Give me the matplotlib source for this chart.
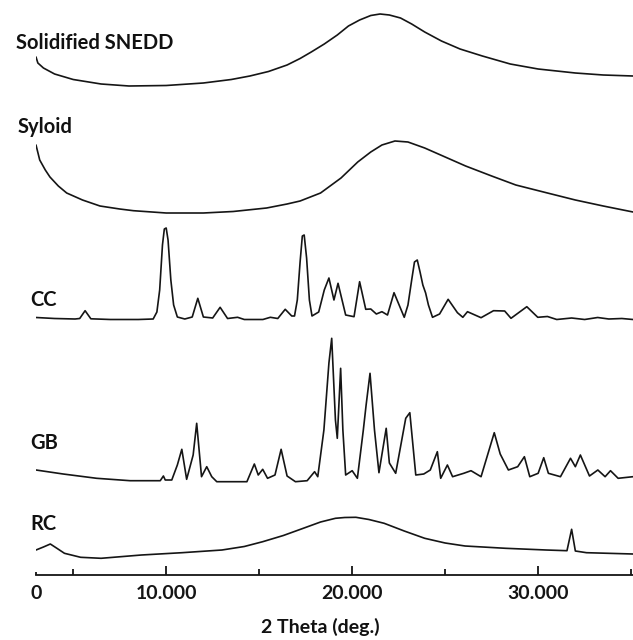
import matplotlib
matplotlib.use('Agg')
import matplotlib.pyplot as plt

plt.rcParams['font.family'] = ['Lato', 'DejaVu Sans']

# ---------------- data (2 theta in degrees, intensity in arbitrary units) -------------
names = ['Solidified SNEDD', 'Syloid', 'CC', 'GB', 'RC']

snedd_x = [3.0, 3.1, 3.4, 4.0, 5.0, 6.5, 8.0, 10.0, 12.0, 13.5, 14.5, 15.5, 16.5, 17.2,
           17.8, 18.5, 19.2, 19.8, 20.4, 21.0, 21.5, 22.0, 22.6, 23.2, 23.9, 24.8, 25.8,
           27.0, 28.5, 30.0, 32.0, 33.5, 35.1]
snedd_y = [33, 27, 22, 16, 10.5, 6, 4, 4.5, 7, 10.5, 14, 18.5, 25, 31.5,
           38, 46, 55, 64, 70, 74.5, 76, 75, 72, 66, 58, 49, 41,
           34, 26, 21, 17, 15, 14]

syloid_x = [3.0, 3.2, 3.5, 3.75, 4.2, 4.65, 5.5, 6.44, 7.5, 8.24, 10.0, 12.0, 13.6, 15.4,
            16.5, 17.2, 18.3, 19.4, 20.3, 21.0, 21.6, 22.3, 23.0, 23.9, 25.0, 26.1, 27.5,
            28.8, 30.5, 32.0, 33.5, 35.1]
syloid_y = [70, 55, 45, 38, 29, 22, 15, 9, 6, 4.3, 2, 2, 3.5, 7,
            11, 14, 22, 37, 53, 63, 70, 74, 73, 67, 58, 49, 39,
            30, 22, 15, 9, 3]

cc_x = [3.0, 4.0, 5.1, 5.35, 5.64, 5.95, 7.0, 8.5, 9.3, 9.5, 9.65, 9.8, 9.9, 10.0, 10.1,
        10.25, 10.4, 10.6, 11.0, 11.4, 11.7, 12.0, 12.5, 12.9, 13.3, 13.84, 14.2, 15.2, 15.6,
        16.0, 16.4, 16.75, 16.9, 17.05, 17.2, 17.32, 17.42, 17.55, 17.7, 17.84, 18.2, 18.5,
        18.75, 19.02, 19.24, 19.65, 20.1, 20.4, 20.73, 21.0, 21.3, 21.6, 21.9, 22.25, 22.8,
        23.0, 23.2, 23.35, 23.5, 23.65, 23.8, 23.95, 24.1, 24.32, 24.7, 25.16, 25.66, 25.95,
        26.2, 26.93, 27.6, 28.2, 28.54, 29.39, 29.98, 30.5, 31.0, 31.8, 32.5, 33.2, 33.8,
        34.5, 35.1]
cc_y = [2.0, 1.0, 0.5, 1.0, 8.8, 0.7, 0.0, 0.0, 0.5, 7.5, 29.5, 74.5, 90.5, 91.5, 79.5,
        39.5, 14.5, 2.5, 0.5, 2.5, 21.2, 2.5, 1.5, 12.2, 1.0, 2.2, 0.0, 0.0, 2.2,
        1.0, 10.2, 3.5, 3.5, 19.5, 57.5, 83.5, 84.5, 61.5, 19.5, 3.5, 7.5, 29.5,
        41.5, 19.5, 36.2, 4.5, 2.8, 37.8, 10.2, 10.5, 5.5, 7.8, 4.5, 26.8, 2.2,
        14.5, 39.5, 57.5, 59.5, 47.5, 34.5, 26.5, 14.5, 2.2, 5.5, 20.2, 6.8, 2.2,
        7.8, 1.8, 8.8, 8.5, 1.2, 12.8, 2.2, 3.0, 0.0, 1.5, 0.0, 2.0, 0.5,
        1.0, 0.0]

gb_x = [3.0, 4.46, 6.26, 8.06, 9.68, 9.85, 9.95, 10.3, 10.6, 10.84, 11.1, 11.45, 11.64, 11.9,
        12.18, 12.45, 12.72, 14.34, 14.74, 14.95, 15.19, 15.45, 15.85, 16.18, 16.5, 16.95,
        17.58, 17.98, 18.15, 18.48, 18.75, 18.9, 19.1, 19.2, 19.38, 19.5, 19.65, 20.0, 20.28,
        20.6, 20.75, 20.96, 21.2, 21.44, 21.83, 22.0, 22.34, 22.88, 23.1, 23.42, 23.85, 24.2,
        24.58, 24.76, 25.12, 25.4, 26.0, 26.39, 26.93, 27.64, 27.96, 28.4, 28.9, 29.26, 29.55,
        30.0, 30.3, 30.55, 31.2, 31.74, 32.0, 32.27, 32.76, 33.21, 33.6, 33.89, 34.3, 35.1]
gb_y = [12, 8, 3.7, 1.3, 1.3, 6, 2, 2, 17, 32.7, 2.7, 27, 58.7, 5.3,
        15.3, 5.3, 0.3, 0.3, 18, 7, 12.7, 3.7, 7, 32.7, 6, 0.3,
        1.3, 10.3, 5.3, 52, 119, 143.7, 62, 43.7, 113.7, 52, 7, 11.3, 3.7,
        52, 77, 108.7, 52, 9.3, 53.7, 19, 8.7, 63.7, 69.3, 7, 8, 12,
        30.3, 3.7, 17, 5.3, 8.7, 11.3, 5.3, 49.3, 28, 12, 15.3, 25.3, 5.3,
        8.7, 24.3, 8.7, 5.3, 23.7, 15.3, 27, 6, 12, 5.3, 11.3, 3.7, 5.3]

rc_x = [3.0, 3.4, 3.77, 4.1, 4.53, 5.4, 6.5, 8.67, 10.85, 13.0, 14.2, 15.19, 16.3, 17.37,
        18.3, 19.1, 19.6, 20.2, 20.9, 21.72, 22.8, 23.9, 25.0, 26.07, 28.25, 30.43, 31.55,
        31.8, 32.0, 32.6, 35.1]
rc_y = [10, 13, 16, 12, 6.7, 2.7, 1.7, 5, 7.3, 10, 13.5, 18.3, 24.5, 31.7,
        38, 41.7, 42.5, 42.7, 40.5, 36.7, 29, 21.7, 17, 14, 11.7, 10, 9.3,
        30.7, 9, 7.3, 6]

xs = [snedd_x, syloid_x, cc_x, gb_x, rc_x]
ys = [snedd_y, syloid_y, cc_y, gb_y, rc_y]

tick_pos = [3, 10, 20, 30]
tick_labels = ['0', '10.000', '20.000', '30.000']
minor_pos = [5, 15, 25, 35]

# ---------------- layout ---------------------------------------------------------------
W, H = 633, 640
fig = plt.figure(figsize=(W / 100, H / 100), dpi=100)
ax_bottom_px = 575
ax = fig.add_axes([36 / W, (H - ax_bottom_px) / H, (W - 36) / W, ax_bottom_px / H])
ax.set_xlim(3, 35.1)
ax.set_ylim(0, ax_bottom_px)

baselines_px = [90, 215, 319.5, 482, 560]   # baseline row (from top) of each trace
label_pos = [(16, 43), (18, 127), (30, 300), (30, 443), (30, 524)]

for x, y, b in zip(xs, ys, baselines_px):
    off = ax_bottom_px - b
    ax.plot(x, [off + v for v in y], color='#151515', lw=1.2,
            solid_joinstyle='round', solid_capstyle='round')

for name, (lx, ly) in zip(names, label_pos):
    fig.text(lx / W, 1 - ly / H, name, fontsize=14.5, fontweight='bold',
             ha='left', va='center', color='#111111')

for s in ['left', 'right', 'top']:
    ax.spines[s].set_visible(False)
ax.spines['bottom'].set_linewidth(1.3)
ax.spines['bottom'].set_color('#151515')
ax.set_yticks([])
ax.set_xticks(tick_pos)
ax.set_xticklabels(tick_labels, fontsize=14, fontweight='bold')
ax.set_xticks(minor_pos, minor=True)
ax.tick_params(axis='x', which='major', direction='in', length=6.5, width=1.3,
               pad=7, colors='#151515')
ax.tick_params(axis='x', which='minor', direction='in', length=4, width=1.3,
               colors='#151515')
ax.xaxis.get_major_ticks()[0].tick1line.set_markersize(2.5)

fig.text(320 / W, 1 - 627 / H, '2 Theta (deg.)', fontsize=14, fontweight='bold',
         ha='center', va='center', color='#111111')

fig.savefig('out.png', dpi=100)
